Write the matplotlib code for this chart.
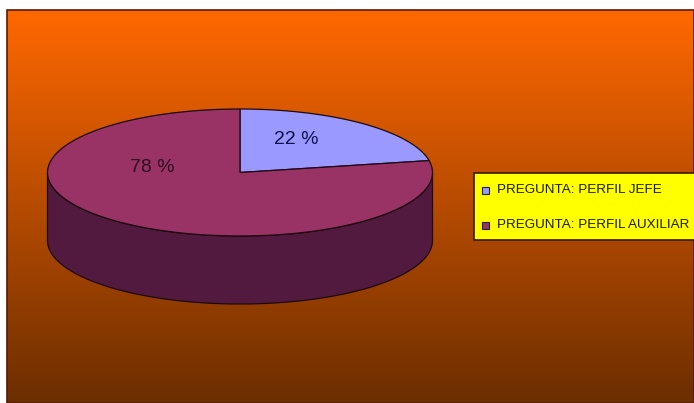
import numpy as np
import matplotlib
matplotlib.use('Agg')
import matplotlib.pyplot as plt
from matplotlib import font_manager
from matplotlib.patches import Polygon, Rectangle

# datos de la encuesta
labels = ['PREGUNTA: PERFIL JEFE', 'PREGUNTA: PERFIL AUXILIAR']
values = [22, 78]
top_colors = ['#9999FF', '#993366']
side_colors = ['#6E6EC0', '#511A3E']
label_colors = ['#10104a', '#2e0c1c']
label_pos = [(296, 140), (152, 167)]

W, H = 694, 403

# pie 3d: centro, radios y grosor en pixeles
cx, cy = 240, 172.5
rx, ry = 192.5, 63.5
depth = 68


def arc(t1, t2, dy=0, n=120):
    t = np.radians(np.linspace(t1, t2, n))
    return np.column_stack([cx + rx * np.cos(t), cy + dy - ry * np.sin(t)])


# fuente estrecha para la leyenda si existe
try:
    font_manager.findfont('Liberation Sans Narrow', fallback_to_default=False)
    legend_font, legend_size = 'Liberation Sans Narrow', 11.8
except Exception:
    legend_font, legend_size = 'Liberation Sans', 9.7

fig = plt.figure(figsize=(W / 100, H / 100), dpi=100)
fig.patch.set_facecolor('white')
ax = fig.add_axes([0, 0, 1, 1])
ax.set_xlim(0, W)
ax.set_ylim(H, 0)
ax.axis('off')

# fondo degradado naranja -> marron
top = np.array([255, 104, 0]) / 255
bottom = np.array([108, 46, 0]) / 255
k = np.linspace(0, 1, 256)[:, None]
grad = (top * (1 - k) + bottom * k)[:, None, :]
ax.imshow(grad, extent=(7, W, H, 10), origin='upper', aspect='auto', zorder=0)
ax.add_patch(Rectangle((7, 10), W - 7, H - 10, fill=False, edgecolor='#5a1a00', lw=1.2, zorder=1))

# angulos de cada porcion, en sentido horario desde las 12
total = float(sum(values))
bounds = 90 - 360 * np.concatenate([[0], np.cumsum(values)]) / total

# paredes laterales (solo la mitad delantera es visible)
for i in range(len(values)):
    hi, lo = bounds[i], bounds[i + 1]
    for s in (-360, 0, 360):
        a, b = max(lo, -180 + s), min(hi, 0 + s)
        if a < b:
            pts = np.vstack([arc(a, b), arc(b, a, dy=depth)])
            ax.add_patch(Polygon(pts, closed=True, facecolor=side_colors[i],
                                 edgecolor='#1e0810', lw=0.9, zorder=2))

# caras superiores
for i in range(len(values)):
    pts = np.vstack([[cx, cy], arc(bounds[i], bounds[i + 1])])
    ax.add_patch(Polygon(pts, closed=True, facecolor=top_colors[i],
                         edgecolor='#1e0810', lw=0.9, zorder=3))

for v, (x, y), c in zip(values, label_pos, label_colors):
    pct = round(100 * v / total)
    ax.text(x, y, f'{pct} %', ha='center', va='center', fontsize=14,
            family='Liberation Sans', color=c, zorder=4)

# leyenda
ax.add_patch(Rectangle((474, 173), 230, 67, facecolor='#FFFF00',
                       edgecolor='#3a1800', lw=1.2, zorder=4))
for i, lab in enumerate(labels):
    y = 190 + 35 * i
    ax.add_patch(Rectangle((482, y - 3.5), 7, 7, facecolor=top_colors[i],
                           edgecolor='#222222', lw=0.8, zorder=5))
    ax.text(497, y, lab, ha='left', va='center', fontsize=legend_size,
            family=legend_font, color='#1a1a00', zorder=5)

fig.savefig('out.png', dpi=100)
